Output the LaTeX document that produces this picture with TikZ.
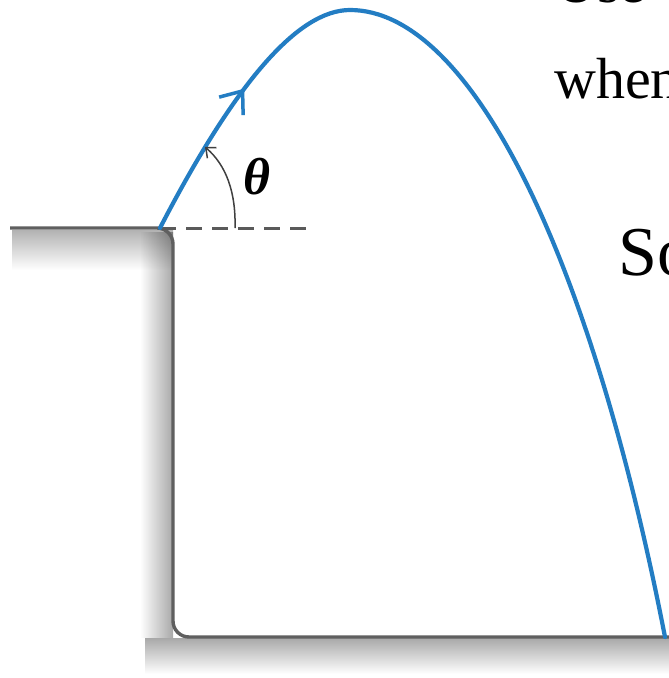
\documentclass[tikz,border=0pt]{standalone}
\usepackage{fontspec}
\setmainfont{Liberation Serif}
\usetikzlibrary{arrows.meta,decorations.markings}
\definecolor{trajblue}{RGB}{35,125,195}
\definecolor{cliffgray}{RGB}{95,95,95}
\definecolor{dashgray}{RGB}{90,90,90}
\begin{document}
\begin{tikzpicture}[x=1pt,y=-1pt,
  cliffline/.style={draw=cliffgray, line width=3.4pt, rounded corners=16pt},
  dashline/.style={draw=dashgray, line width=3pt, dash pattern=on 16pt off 10pt},
  trajline/.style={draw=trajblue, line width=4.2pt, line cap=round},
  anglearc/.style={draw=black!75, line width=1.5pt, -{Straight Barb[length=8pt,width=14pt]}},
  bigtext/.style={inner sep=0pt, anchor=base west, font=\fontsize{58}{64}\selectfont},
  sotext/.style={inner sep=0pt, anchor=base west, font=\fontsize{70}{80}\selectfont}]
\useasboundingbox (0,0) rectangle (669,678);
\fill[white] (0,0) rectangle (669,678);
% shadows
\begin{scope}[blend mode=multiply]
\shade[left color=white, right color=black!34] (140,232) rectangle (173,637);
\shade[top color=black!30, bottom color=white] (12,230) rectangle (173,270);
\shade[top color=black!34, bottom color=white] (145,638) rectangle (669,674);
\end{scope}
% cliff outline
\coordinate (launch) at (160,228);
\coordinate (dashend) at (315,228);
\coordinate (apex) at (350,10);
\coordinate (landing) at (665,637);
\draw[cliffline] (10,228) -- (173,228) -- (173,637) -- (669,637);
% dashed horizontal
\draw[dashline] (launch) -- (dashend);
% trajectory
\draw[trajline, postaction={decorate},
  decoration={markings, mark=at position 163pt with {\arrow{Straight Barb[length=19pt,width=30pt,line width=3.5pt]}}}]
  (launch) .. controls (235,83) and (298,10) .. (apex)
           .. controls (470,10) and (590,252) .. (landing);
% angle arc
\coordinate (arcstart) at (235,228);
\coordinate (arcend) at (205,147);
\draw[anglearc] (arcstart) .. controls (236,192) and (226,165) .. (arcend);
\node[inner sep=0pt] (theta) at (257,177) {\fontsize{52}{56}\selectfont\bfseries\itshape θ};
% texts
\node[bigtext] (use) at (555,2) {Use};
\node[bigtext] (when) at (554,98) {when};
\node[sotext] (so) at (618,275) {So};
\end{tikzpicture}
\end{document}
